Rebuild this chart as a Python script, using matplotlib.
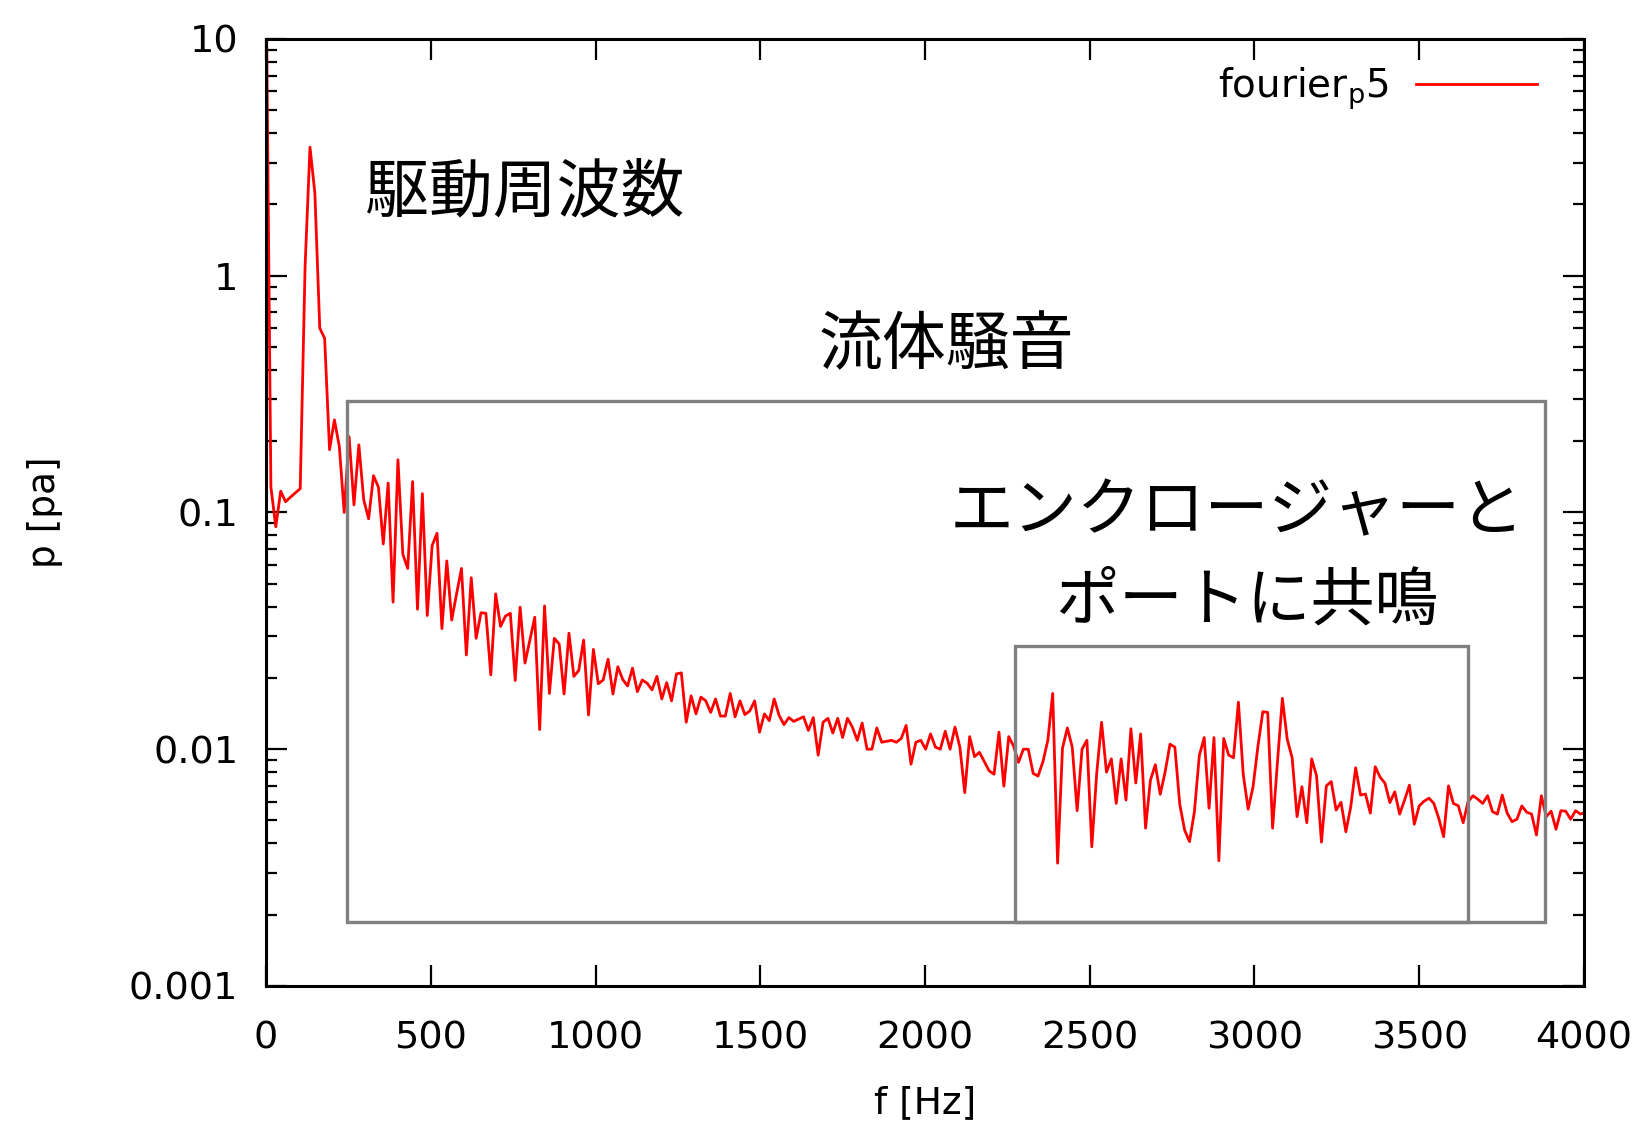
import numpy as np
import matplotlib.pyplot as plt
from matplotlib import ticker
from matplotlib.patches import Rectangle

# === data (uniform FFT bins) ===
DF = 14.83  # Hz per bin
p5 = [
    20.0, 0.128, 0.087, 0.123, 0.111, 0.116, 0.121, 0.126, 1.1, 3.49,
    2.23, 0.60, 0.544, 0.184, 0.246, 0.19, 0.1, 0.209, 0.1076, 0.193,
    0.113, 0.094, 0.143, 0.128, 0.0736, 0.133, 0.0418, 0.167, 0.0666, 0.058,
    0.135, 0.039, 0.12, 0.0367, 0.0725, 0.0817, 0.0323, 0.0624, 0.0351, 0.0453,
    0.058, 0.025, 0.053, 0.0294, 0.0377, 0.0375, 0.0206, 0.0453, 0.033, 0.0365,
    0.0375, 0.0195, 0.0398, 0.0231, 0.0289, 0.0361, 0.0121, 0.0403, 0.0172, 0.0294,
    0.0278, 0.0171, 0.0309, 0.0203, 0.0215, 0.0289, 0.01395, 0.0264, 0.0189, 0.0196,
    0.024, 0.0171, 0.0223, 0.0197, 0.0185, 0.022, 0.0175, 0.0196, 0.019, 0.0178,
    0.0203, 0.0163, 0.0191, 0.0160, 0.0208, 0.0210, 0.0130, 0.0168, 0.0141, 0.0166,
    0.0160, 0.0143, 0.0163, 0.0138, 0.0138, 0.0172, 0.0137, 0.0160, 0.0140, 0.0145,
    0.0160, 0.0118, 0.0141, 0.0132, 0.0163, 0.0139, 0.0127, 0.0136, 0.0131, 0.0134,
    0.0137, 0.0120, 0.0136, 0.00943, 0.0130, 0.0135, 0.0117, 0.0135, 0.0112, 0.0135,
    0.0124, 0.0109, 0.0129, 0.0100, 0.0100, 0.0123, 0.0107, 0.0108, 0.0109, 0.0107,
    0.0111, 0.0126, 0.00864, 0.0107, 0.0109, 0.0100, 0.0116, 0.0102, 0.0100, 0.0119,
    0.0100, 0.0124, 0.0102, 0.00655, 0.0113, 0.0093, 0.0097, 0.00886, 0.0081, 0.00784,
    0.0118, 0.00698, 0.0113, 0.0103, 0.0088, 0.0100, 0.0100, 0.0079, 0.0077, 0.00886,
    0.0109, 0.0172, 0.0033, 0.0101, 0.0123, 0.0102, 0.0055, 0.0100, 0.0109, 0.00387,
    0.0079, 0.0130, 0.0080, 0.0091, 0.0059, 0.0091, 0.0061, 0.0122, 0.0072, 0.0116,
    0.00464, 0.0074, 0.0086, 0.00645, 0.0080, 0.0105, 0.0102, 0.00585, 0.00455, 0.00407,
    0.00545, 0.0094, 0.0112, 0.00563, 0.0112, 0.00338, 0.0111, 0.00945, 0.0092, 0.0158,
    0.0078, 0.00558, 0.00694, 0.0103, 0.0144, 0.0143, 0.00464, 0.00886, 0.0164, 0.0110,
    0.0092, 0.00519, 0.00694, 0.00489, 0.0091, 0.0077, 0.00405, 0.0070, 0.0073, 0.00553,
    0.00597, 0.00448, 0.00572, 0.00835, 0.0064, 0.00647, 0.00537, 0.00843, 0.00762, 0.00718,
    0.00595, 0.00661, 0.00532, 0.00609, 0.00705, 0.00482, 0.00576, 0.00603, 0.00621, 0.0059,
    0.00511, 0.00427, 0.0070, 0.0059, 0.00577, 0.00489, 0.0060, 0.00636, 0.00615, 0.0059,
    0.00636, 0.00545, 0.00532, 0.0064, 0.00537, 0.00494, 0.00506, 0.00576, 0.00542, 0.00532,
    0.00434, 0.00636, 0.00519, 0.00547, 0.00459, 0.0055, 0.00547, 0.00506, 0.0055, 0.00532,
    0.0054,
]
freq = np.arange(len(p5)) * DF

x_ticks = [0, 500, 1000, 1500, 2000, 2500, 3000, 3500, 4000]
y_ticks = [0.001, 0.01, 0.1, 1, 10]

# annotation boxes: (f_left, f_right, p_bottom, p_top)
box_fluid = (247, 3882, 0.00186, 0.296)
box_port = (2273, 3647, 0.00186, 0.0272)

JP = ['Noto Sans CJK JP', 'DejaVu Sans']

fig = plt.figure(figsize=(16.36, 11.25), dpi=100)
ax = fig.add_axes([0.1626, 0.1236, 0.8056, 0.8418])

ax.plot(freq, p5, color='red', lw=2.0, label=r'fourier$_\mathregular{p}$5', zorder=2)

for f0, f1, lo, hi in (box_fluid, box_port):
    ax.add_patch(Rectangle((f0, lo), f1 - f0, hi - lo, fill=False,
                           edgecolor='#808080', lw=2.4, zorder=3))

ax.set_yscale('log')
ax.set_xlim(0, 4000)
ax.set_ylim(0.001, 10)
ax.set_xticks(x_ticks)
ax.set_yticks(y_ticks)
ax.yaxis.set_major_formatter(ticker.FuncFormatter(lambda v, _: f'{v:g}'))
ax.yaxis.set_minor_formatter(ticker.NullFormatter())

for s in ax.spines.values():
    s.set_linewidth(2.2)
ax.tick_params(which='both', direction='in', top=True, right=True, width=1.6,
               labelsize=27.5)
ax.tick_params(axis='x', pad=25)
ax.tick_params(axis='y', pad=20)
ax.tick_params(which='major', length=15)
ax.tick_params(which='minor', length=8)

ax.set_xlabel('f [Hz]', fontsize=27, va='center')
ax.set_ylabel('p [pa]', fontsize=27, va='center')
ax.xaxis.set_label_coords(0.5, -0.124)
ax.yaxis.set_label_coords(-0.168, 0.5)

ax.text(0.196, 0.837, '駆動周波数', transform=ax.transAxes, family=JP,
        fontsize=46, ha='center', va='center')
ax.text(0.516, 0.676, '流体騒音', transform=ax.transAxes, family=JP,
        fontsize=46, ha='center', va='center')
ax.text(0.737, 0.500, 'エンクロージャーと', transform=ax.transAxes, family=JP,
        fontsize=46, ha='center', va='center')
ax.text(0.744, 0.406, 'ポートに共鳴', transform=ax.transAxes, family=JP,
        fontsize=46, ha='center', va='center')

ax.legend(loc='upper right', bbox_to_anchor=(0.9643, 0.972), frameon=False,
          markerfirst=False, fontsize=28, handlelength=3.1, handletextpad=0.7,
          borderpad=0, borderaxespad=0)

fig.savefig('out.png', dpi=100)
